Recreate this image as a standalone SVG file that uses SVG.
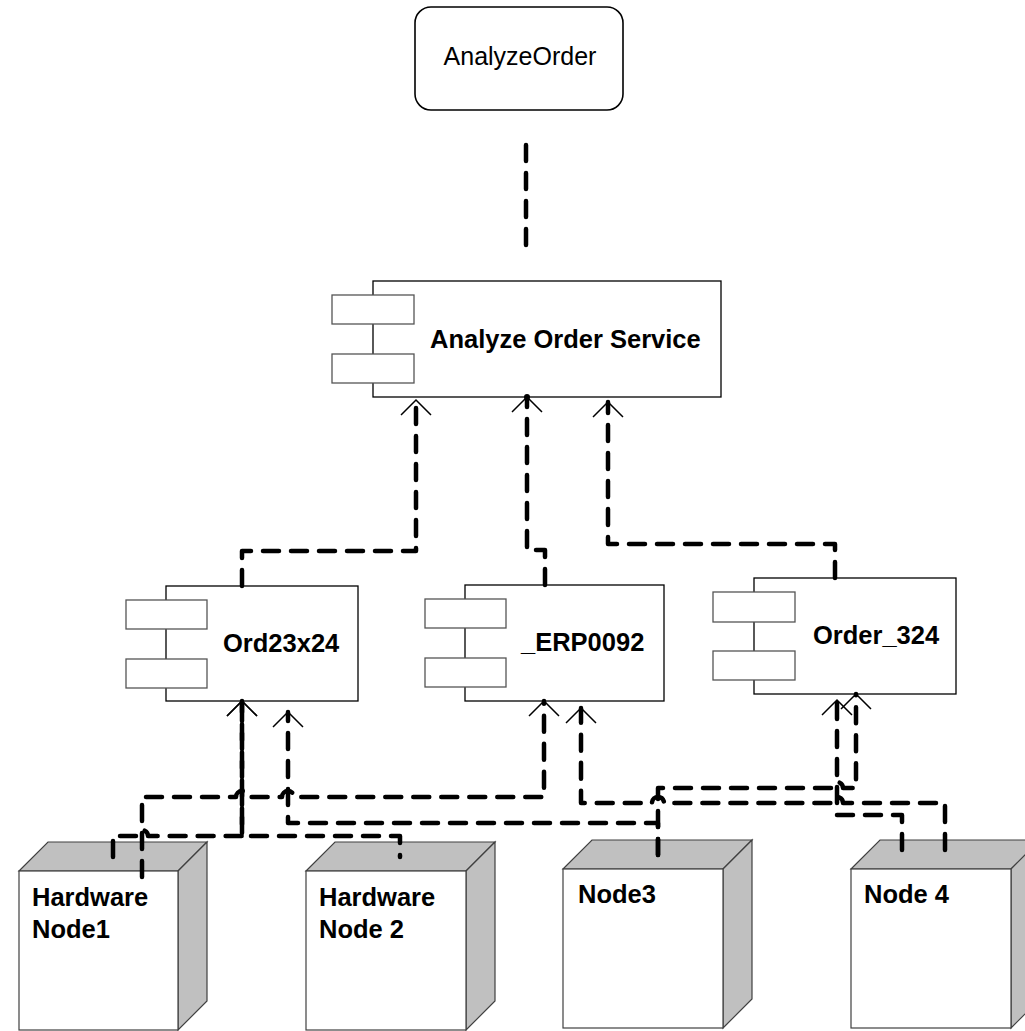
<svg xmlns="http://www.w3.org/2000/svg" width="1025" height="1031" viewBox="0 0 1025 1031">
<defs>
<style>
.bg{fill:#fff}
.act{fill:#fff;stroke:#000;stroke-width:1.6}
.comp{fill:#fff;stroke:#000;stroke-width:1.3}
.port{fill:#fff;stroke:#555;stroke-width:1.3}
.front{fill:#fff;stroke:#404040;stroke-width:1.2}
.side{fill:#c0c0c0;stroke:#404040;stroke-width:1.2}
.lbl{font-family:"Liberation Sans",Arial,sans-serif;font-weight:bold;font-size:25.5px;fill:#000}
.lblr{font-family:"Liberation Sans",Arial,sans-serif;font-size:25px;fill:#000}
.dep{fill:none;stroke:#000;stroke-width:4.5;stroke-dasharray:16 12;stroke-linecap:round;stroke-linejoin:round}
</style>
<marker id="arr" markerUnits="userSpaceOnUse" markerWidth="40" markerHeight="40" viewBox="-20 -20 40 40" refX="0" refY="0" orient="auto" overflow="visible">
<path d="M-15,-15 L0,0 L-15,15" fill="none" stroke="#000" stroke-width="1.5" stroke-dasharray="none"/>
</marker>
</defs>
<rect class="bg" x="0" y="0" width="1025" height="1031"/>

<g id="AnalyzeOrder">
<rect class="act" x="415" y="7" width="208" height="103" rx="16" ry="16"/>
<text class="lblr" x="520" y="65" text-anchor="middle">AnalyzeOrder</text>
</g>

<g id="AnalyzeOrderService">
<rect class="comp" x="373" y="281" width="348" height="116"/>
<rect class="port" x="332" y="295" width="82" height="29"/>
<rect class="port" x="332" y="354" width="82" height="29"/>
<text class="lbl" x="430" y="348">Analyze Order Service</text>
</g>

<g id="Ord23x24">
<rect class="comp" x="166" y="586" width="192" height="115"/>
<rect class="port" x="126" y="600" width="81" height="29"/>
<rect class="port" x="126" y="659" width="81" height="29"/>
<text class="lbl" x="223" y="652">Ord23x24</text>
</g>

<g id="ERP0092">
<rect class="comp" x="465" y="585" width="199" height="116"/>
<rect class="port" x="425" y="599" width="81" height="29"/>
<rect class="port" x="425" y="658" width="81" height="29"/>
<text class="lbl" x="521" y="651">_ERP0092</text>
</g>

<g id="Order_324">
<rect class="comp" x="754" y="578" width="202" height="116"/>
<rect class="port" x="713" y="592" width="82" height="30"/>
<rect class="port" x="713" y="651" width="82" height="29"/>
<text class="lbl" x="813" y="644">Order_324</text>
</g>

<g id="HardwareNode1">
<polygon class="side" points="19,871 48,842 207,842 178,871"/>
<polygon class="side" points="178,871 207,842 207,1001 178,1030"/>
<rect class="front" x="19" y="871" width="159" height="159"/>
<text class="lbl" x="32" y="906">Hardware</text>
<text class="lbl" x="32" y="938">Node1</text>
</g>

<g id="HardwareNode2">
<polygon class="side" points="306,871 335,842 495,842 466,871"/>
<polygon class="side" points="466,871 495,842 495,1001 466,1030"/>
<rect class="front" x="306" y="871" width="160" height="159"/>
<text class="lbl" x="319" y="906">Hardware</text>
<text class="lbl" x="319" y="938">Node 2</text>
</g>

<g id="Node3">
<polygon class="side" points="563,869 592,840 752,840 723,869"/>
<polygon class="side" points="723,869 752,840 752,999 723,1028"/>
<rect class="front" x="563" y="869" width="160" height="159"/>
<text class="lbl" x="578" y="903">Node3</text>
</g>

<g id="Node4">
<polygon class="side" points="851,869 880,840 1040,840 1011,869"/>
<polygon class="side" points="1011,869 1040,840 1040,999 1011,1028"/>
<rect class="front" x="851" y="869" width="160" height="159"/>
<text class="lbl" x="864" y="903">Node 4</text>
</g>

<g id="connectors">
<path class="dep" d="M526,145 V252"/>
<path class="dep" d="M242,586 V551 H416 V400" marker-end="url(#arr)"/>
<path class="dep" d="M545,585 V550 H527 V397" marker-end="url(#arr)"/>
<circle cx="527" cy="397" r="3" fill="#000"/>
<path class="dep" d="M835,578 V544 H608 V402" marker-end="url(#arr)"/>
<path class="dep" d="M142,877 V797 H236 A6,6 0 0 1 248,797 H282 A6,6 0 0 1 294,797 H544 V701" marker-end="url(#arr)"/>
<path class="dep" d="M113,857 V836 H136 A6,6 0 0 1 148,836 H242 V701" marker-end="url(#arr)"/>
<path class="dep" d="M400,857 V836 H242 V701" style="stroke-dashoffset:14" marker-end="url(#arr)"/>
<path class="dep" d="M658,855 V823 H288 V712" marker-end="url(#arr)"/>
<path class="dep" d="M658,855 V788 H831 A6,6 0 0 1 843,788 H856 V694" marker-end="url(#arr)"/>
<path class="dep" d="M945,850 V803 H843 A6,6 0 0 0 831,803 H664 A6,6 0 0 0 652,803 H581 V708" marker-end="url(#arr)"/>
<path class="dep" d="M902,850 V815 H837 V700" marker-end="url(#arr)"/>
</g>
</svg>
